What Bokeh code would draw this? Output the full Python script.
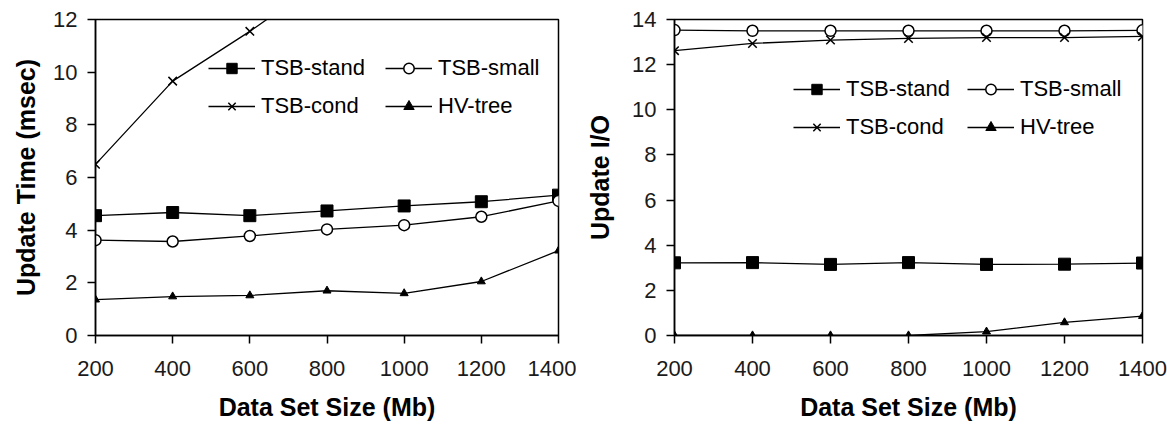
from bokeh.plotting import figure
from bokeh.layouts import row
from bokeh.models import FixedTicker, Legend, LegendItem, Range1d
from bokeh.embed import file_html
from bokeh.resources import INLINE

# ---------------- data ----------------
sizes = [200, 400, 600, 800, 1000, 1200, 1400]

time_tsb_stand = [4.55, 4.67, 4.55, 4.73, 4.92, 5.08, 5.33]
time_tsb_small = [3.62, 3.57, 3.78, 4.03, 4.19, 4.51, 5.11]
time_tsb_cond = [6.5, 9.66, 11.55, 13.6, 15.2, 16.6, 18.0]
time_hv_tree = [1.36, 1.48, 1.52, 1.70, 1.60, 2.05, 3.22]

io_tsb_stand = [3.22, 3.23, 3.15, 3.23, 3.15, 3.16, 3.21]
io_tsb_small = [13.53, 13.5, 13.5, 13.5, 13.5, 13.5, 13.52]
io_tsb_cond = [12.62, 12.94, 13.09, 13.16, 13.2, 13.2, 13.25]
io_hv_tree = [0.0, 0.0, 0.0, 0.0, 0.17, 0.58, 0.86]

series_names = ["TSB-stand", "TSB-small", "TSB-cond", "HV-tree"]
x_ticks = [200, 400, 600, 800, 1000, 1200, 1400]
x_label = "Data Set Size (Mb)"
left_y_label = "Update Time (msec)"
right_y_label = "Update I/O"

FONT = "Liberation Sans"


def make_fig(width, ymax, ylabel, border_left, border_right, series,
             legend_x, legend_y, label_standoff, legend_label_width):
    p = figure(width=width, height=426, output_backend="svg", toolbar_location=None,
               x_range=Range1d(200, 1400), y_range=Range1d(0, ymax),
               min_border_left=border_left, min_border_right=border_right,
               min_border_top=19, min_border_bottom=91)
    p.grid.visible = False
    p.outline_line_color = "black"
    p.outline_line_width = 1.5
    p.background_fill_color = "white"
    p.border_fill_color = "white"

    p.xaxis.ticker = FixedTicker(ticks=x_ticks)
    p.yaxis.ticker = FixedTicker(ticks=list(range(0, ymax + 1, 2)))
    for ax in (p.xaxis[0], p.yaxis[0]):
        ax.axis_line_color = "black"
        ax.axis_line_width = 1.5
        ax.major_tick_line_color = "black"
        ax.major_tick_line_width = 1.5
        ax.major_tick_in = 0
        ax.major_tick_out = 8
        ax.minor_tick_line_color = None
        ax.major_label_text_font = FONT
        ax.major_label_text_font_size = "22px"
        ax.major_label_text_color = "#1a1a1a"
        ax.axis_label_text_font = FONT
        ax.axis_label_text_font_size = "25px"
        ax.axis_label_text_font_style = "bold"
        ax.axis_label_text_color = "black"
    p.xaxis.axis_label = x_label
    p.xaxis.major_label_standoff = 17
    p.xaxis.axis_label_standoff = 14
    p.yaxis.axis_label = ylabel
    p.yaxis.major_label_standoff = 10
    p.yaxis.axis_label_standoff = label_standoff

    stand, small, cond, hv = series
    items = []
    # TSB-stand
    l = p.line(sizes, stand, line_color="black", line_width=1.3)
    m = p.scatter(sizes, stand, marker="square", size=12, fill_color="black",
                  line_color="black")
    items.append(LegendItem(label=series_names[0], renderers=[l, m]))
    # TSB-small
    l = p.line(sizes, small, line_color="black", line_width=1.3)
    m = p.scatter(sizes, small, marker="circle", size=11, fill_color="white",
                  line_color="black", line_width=1.5)
    items.append(LegendItem(label=series_names[1], renderers=[l, m]))
    # TSB-cond
    l = p.line(sizes, cond, line_color="black", line_width=1.3)
    m = p.scatter(sizes, cond, marker="x", size=12, line_color="black", line_width=1.5)
    items.append(LegendItem(label=series_names[2], renderers=[l, m]))
    # HV-tree
    l = p.line(sizes, hv, line_color="black", line_width=1.3)
    m = p.scatter(sizes, hv, marker="triangle", size=8, fill_color="black",
                  line_color="black")
    items.append(LegendItem(label=series_names[3], renderers=[l, m]))

    legend = Legend(items=items, orientation="horizontal", ncols=2,
                    location=(legend_x, legend_y),
                    border_line_color=None, background_fill_alpha=0,
                    padding=0, margin=0, spacing=12,
                    glyph_width=47, glyph_height=26, label_height=26,
                    label_width=legend_label_width,
                    label_standoff=6,
                    label_text_font=FONT, label_text_font_size="22px",
                    label_text_color="black")
    p.add_layout(legend)
    return p


left = make_fig(576, 12, left_y_label, 95, 18,
                (time_tsb_stand, time_tsb_small, time_tsb_cond, time_hv_tree),
                113, 216, 10, 112)
right = make_fig(591, 14, right_y_label, 98, 25,
                 (io_tsb_stand, io_tsb_small, io_tsb_cond, io_hv_tree),
                 119, 195, 15, 109)

layout = row(left, right, spacing=0)
open("out.html", "w").write(file_html(layout, INLINE))
